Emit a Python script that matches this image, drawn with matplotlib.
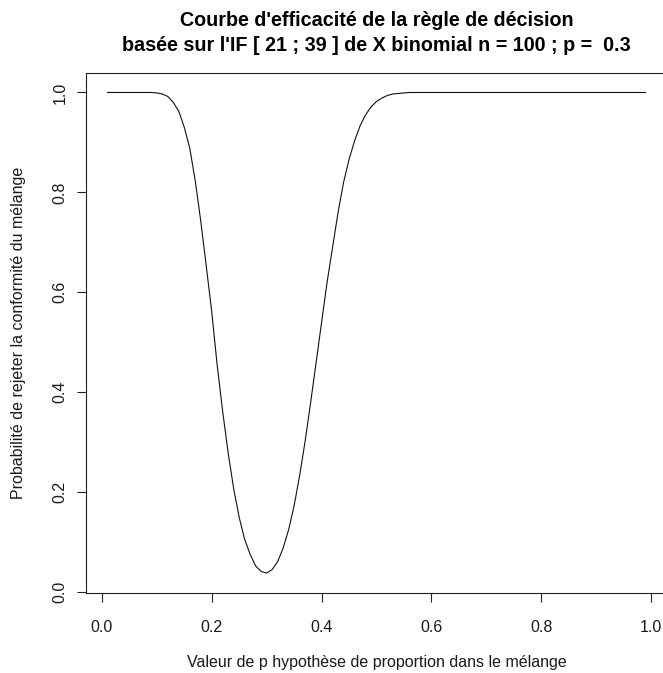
import matplotlib
matplotlib.use("Agg")
import matplotlib.pyplot as plt

plt.rcParams['font.family'] = ['Liberation Sans', 'DejaVu Sans']

# Values
p_values = [0.01, 0.05, 0.09, 0.10, 0.11, 0.12, 0.13, 0.14, 0.15, 0.16, 0.17, 0.18, 0.19,
            0.20, 0.21, 0.22, 0.23, 0.24, 0.25, 0.26, 0.27, 0.28, 0.29,
            0.30, 0.31, 0.32, 0.33, 0.34, 0.35, 0.36, 0.37, 0.38, 0.39,
            0.40, 0.41, 0.42, 0.43, 0.44, 0.45, 0.46, 0.47, 0.48, 0.49,
            0.50, 0.51, 0.52, 0.53, 0.54, 0.55, 0.56, 0.75, 0.99]
reject_prob = [1.000, 1.000, 1.000, 0.999, 0.997, 0.992, 0.980, 0.962, 0.930, 0.888, 0.822, 0.742, 0.652,
               0.560, 0.452, 0.360, 0.277, 0.206, 0.149, 0.105, 0.075, 0.052, 0.041,
               0.038, 0.045, 0.061, 0.088, 0.125, 0.173, 0.233, 0.302, 0.379, 0.459,
               0.540, 0.620, 0.690, 0.760, 0.820, 0.866, 0.903, 0.933, 0.955, 0.971,
               0.982, 0.989, 0.994, 0.997, 0.998, 0.999, 1.000, 1.000, 1.000]

x_ticks = [0.0, 0.2, 0.4, 0.6, 0.8, 1.0]
x_ticklabels = ["0.0", "0.2", "0.4", "0.6", "0.8", "1.0"]
y_ticks = [0.0, 0.2, 0.4, 0.6, 0.8, 1.0]
y_ticklabels = ["0.0", "0.2", "0.4", "0.6", "0.8", "1.0"]

title = "Courbe d'efficacité de la règle de décision\nbasée sur l'IF [ 21 ; 39 ] de X binomial n = 100 ; p =  0.3"
xlabel = "Valeur de p hypothèse de proportion dans le mélange"
ylabel = "Probabilité de rejeter la conformité du mélange"

W, H = 663, 673
fig = plt.figure(figsize=(W / 100, H / 100), dpi=100)
fig.patch.set_facecolor('white')

left, right, top, bottom = 86, 667, 73, 593
ax = fig.add_axes([left / W, 1 - bottom / H, (right - left) / W, (bottom - top) / H])

txt = '#1a1a1a'
ax.plot(p_values, reject_prob, color='#111111', lw=0.8)

ax.set_xlim(-0.0291, 1.0291)
ax.set_ylim(-0.002, 1.039)

ax.set_xticks(x_ticks)
ax.set_xticklabels(x_ticklabels)
ax.set_yticks(y_ticks)
ax.set_yticklabels(y_ticklabels, rotation=90, va='center')

for s in ax.spines.values():
    s.set_linewidth(0.8)
    s.set_color('#222222')

ax.tick_params(axis='both', direction='out', length=6.5, width=0.8, color='#222222',
               labelsize=11.5, labelcolor=txt)
ax.tick_params(axis='x', pad=13)
ax.tick_params(axis='y', pad=7)

fig.text((left + right) / 2 / W, 1 - 33 / H, title, ha='center', va='center',
         fontsize=14.2, fontweight='bold', color='#000000', linespacing=1.4)
fig.text((left + right) / 2 / W, 1 - 663 / H, xlabel, ha='center', va='center',
         fontsize=11.5, color=txt)
fig.text(19 / W, 1 - 333 / H, ylabel, ha='center', va='center', rotation=90,
         fontsize=11.5, color=txt)

fig.savefig("out.png", dpi=100, facecolor='white')
